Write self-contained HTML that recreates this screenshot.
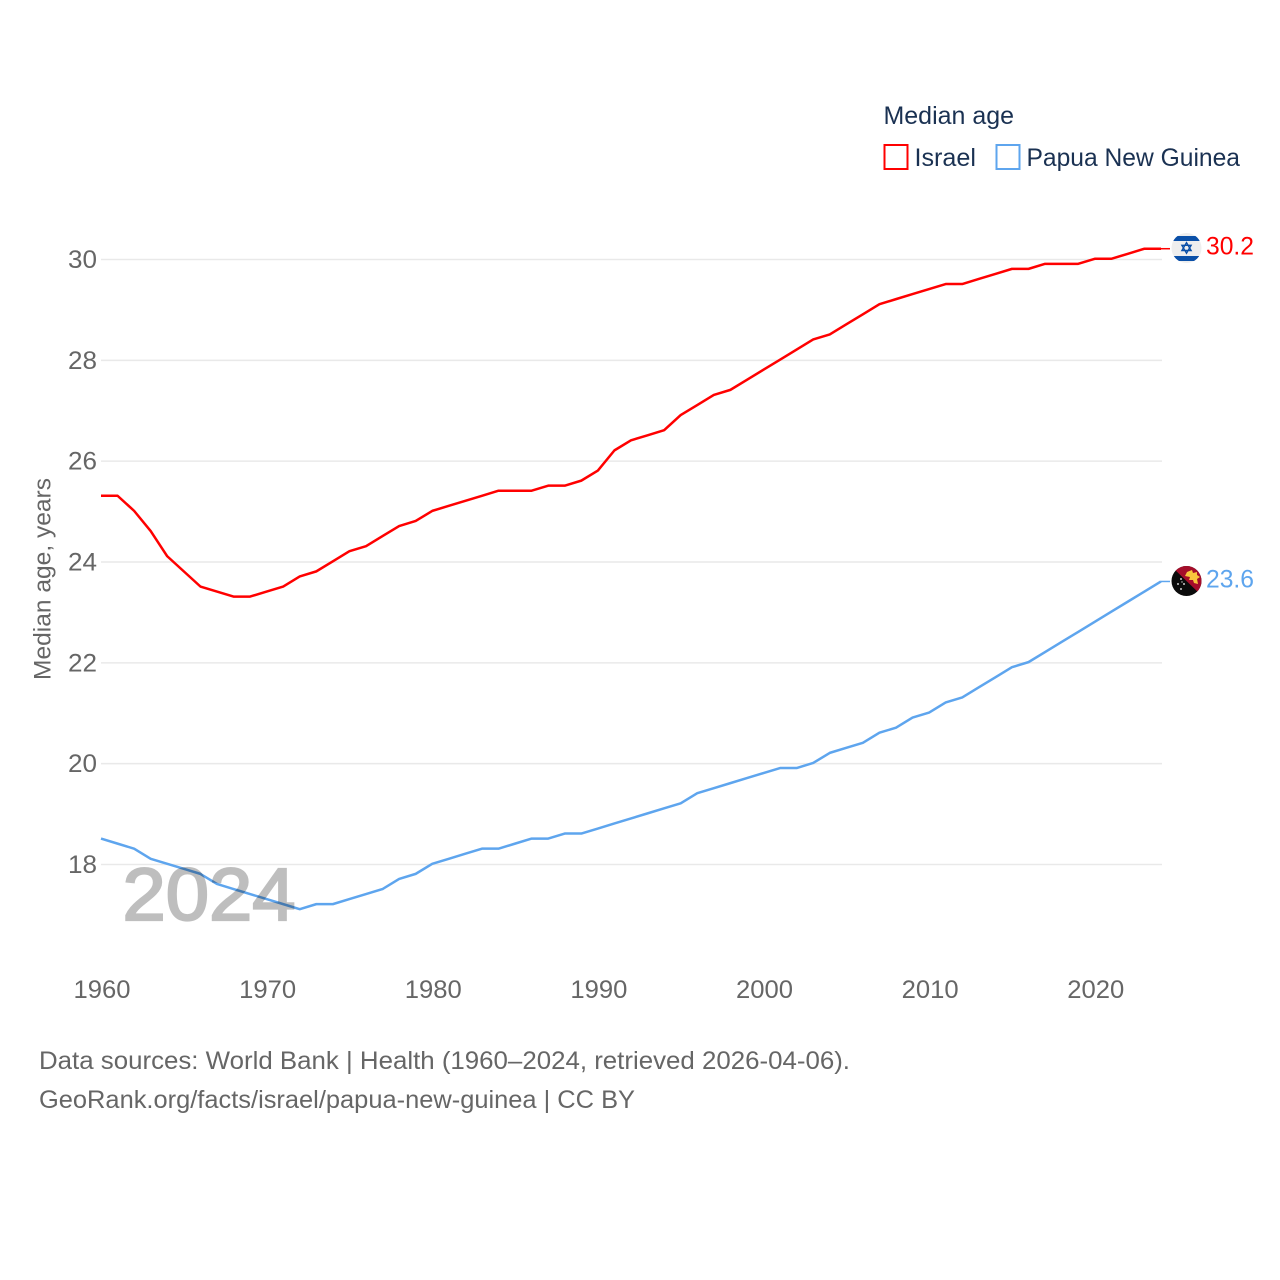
<!DOCTYPE html>
<html lang="en">
<head>
<meta charset="utf-8">
<title>Median age: Israel and Papua New Guinea</title>
<style>
html,body{margin:0;padding:0;background:#fff;width:1280px;height:1280px;overflow:hidden}
svg{display:block}
text{font-family:"Liberation Sans",sans-serif}
</style>
</head>
<body>
<svg id="chart" xmlns="http://www.w3.org/2000/svg" width="1280" height="1280" viewBox="0 0 1280 1280">
  <g id="grid"></g>
  <g id="yticks"></g>
  <g id="xticks"></g>
  <g id="series"></g>

  <text x="122.5" y="920" font-size="74" fill="#000" stroke="#000" stroke-width="2.2" opacity="0.25" textLength="173" lengthAdjust="spacingAndGlyphs">2024</text>

  <text transform="translate(50.5,680) rotate(-90)" font-size="24" fill="#666" textLength="202" lengthAdjust="spacingAndGlyphs">Median age, years</text>

  <g>
    <text x="883.5" y="124" font-size="25" fill="#1a3152" textLength="130.5" lengthAdjust="spacingAndGlyphs">Median age</text>
    <rect x="884.5" y="145" width="23" height="24" fill="none" stroke="#ff0000" stroke-width="2"/>
    <text x="914.5" y="166" font-size="25" fill="#1a3152" textLength="61.5" lengthAdjust="spacingAndGlyphs">Israel</text>
    <rect x="996.5" y="145" width="23" height="24" fill="none" stroke="#5ea5ee" stroke-width="2"/>
    <text x="1026.5" y="166" font-size="25" fill="#1a3152" textLength="213.5" lengthAdjust="spacingAndGlyphs">Papua New Guinea</text>
  </g>

  <defs>
    <clipPath id="clip-il"><circle cx="1186.5" cy="248" r="15"/></clipPath>
    <clipPath id="clip-pg"><circle cx="1186.5" cy="581" r="15"/></clipPath>
  </defs>

  <g clip-path="url(#clip-il)">
    <rect x="1171" y="233" width="31" height="30" fill="#eeeeee"/>
    <rect x="1171" y="236" width="31" height="5" fill="#0b50a8"/>
    <rect x="1171" y="256" width="31" height="5" fill="#0b50a8"/>
    <path d="M1186.5 242.6l4.6 7.9h-9.2zM1186.5 253.2l-4.6-7.9h9.2z" fill="none" stroke="#0b50a8" stroke-width="1.4"/>
  </g>

  <g clip-path="url(#clip-pg)">
    <rect x="1171" y="566" width="31" height="30" fill="#0b0b0b"/>
    <path d="M1171 566h31v30z" fill="#a50d2a"/>
    <path d="M1187 572l5-2 1 3 4-1 0 3 3 2-3 2 1 5-4-1-1-3-4 0 1-3-5-1z" fill="#f9c63c"/>
    <circle cx="1181" cy="579" r="1" fill="#ccc"/>
    <circle cx="1178" cy="584" r="1" fill="#ccc"/>
    <circle cx="1184" cy="584" r="1" fill="#ccc"/>
    <circle cx="1181" cy="589" r="1" fill="#ccc"/>
    <circle cx="1182" cy="582" r="0.7" fill="#ccc"/>
  </g>

  <text x="39" y="1069" font-size="25" fill="#666" textLength="811" lengthAdjust="spacingAndGlyphs">Data sources: World Bank | Health (1960–2024, retrieved 2026-04-06).</text>
  <text x="39" y="1108" font-size="25" fill="#666" textLength="596" lengthAdjust="spacingAndGlyphs">GeoRank.org/facts/israel/papua-new-guinea | CC BY</text>
</svg>
<script>
const years = [1960,1961,1962,1963,1964,1965,1966,1967,1968,1969,1970,1971,1972,1973,1974,1975,1976,1977,1978,1979,1980,1981,1982,1983,1984,1985,1986,1987,1988,1989,1990,1991,1992,1993,1994,1995,1996,1997,1998,1999,2000,2001,2002,2003,2004,2005,2006,2007,2008,2009,2010,2011,2012,2013,2014,2015,2016,2017,2018,2019,2020,2021,2022,2023,2024];
const israelValues = [25.3,25.3,25.0,24.6,24.1,23.8,23.5,23.4,23.3,23.3,23.4,23.5,23.7,23.8,24.0,24.2,24.3,24.5,24.7,24.8,25.0,25.1,25.2,25.3,25.4,25.4,25.4,25.5,25.5,25.6,25.8,26.2,26.4,26.5,26.6,26.9,27.1,27.3,27.4,27.6,27.8,28.0,28.2,28.4,28.5,28.7,28.9,29.1,29.2,29.3,29.4,29.5,29.5,29.6,29.7,29.8,29.8,29.9,29.9,29.9,30.0,30.0,30.1,30.2,30.2];
const papuaValues = [18.5,18.4,18.3,18.1,18.0,17.9,17.8,17.6,17.5,17.4,17.3,17.2,17.1,17.2,17.2,17.3,17.4,17.5,17.7,17.8,18.0,18.1,18.2,18.3,18.3,18.4,18.5,18.5,18.6,18.6,18.7,18.8,18.9,19.0,19.1,19.2,19.4,19.5,19.6,19.7,19.8,19.9,19.9,20.0,20.2,20.3,20.4,20.6,20.7,20.9,21.0,21.2,21.3,21.5,21.7,21.9,22.0,22.2,22.4,22.6,22.8,23.0,23.2,23.4,23.6];
const yTickLabels = [18,20,22,24,26,28,30];
const xTickLabels = [1960,1970,1980,1990,2000,2010,2020];

const NS = 'http://www.w3.org/2000/svg';
function xScale(year){ return 101 + (year - 1960) * (1060 / 64); }
function yScale(value){ return 864.5 - (value - 18) * (605 / 12); }
function make(tag, attrs, parent){
  const el = document.createElementNS(NS, tag);
  for (const k in attrs) el.setAttribute(k, attrs[k]);
  parent.appendChild(el);
  return el;
}
const gridGroup = document.getElementById('grid');
const yGroup = document.getElementById('yticks');
const xGroup = document.getElementById('xticks');
const seriesGroup = document.getElementById('series');

yTickLabels.forEach(function(v){
  const line = make('line', {x1:101, x2:1162, y1:yScale(v), y2:yScale(v), stroke:'#e9e9e9', 'stroke-width':1.5}, gridGroup);
  
  
  const t = make('text', {x:97, y:yScale(v)+8.5, 'text-anchor':'end', 'font-size':25, fill:'#666', textLength:29, lengthAdjust:'spacingAndGlyphs'}, yGroup);
  
  
  t.textContent = v;
});
xTickLabels.forEach(function(v){
  const t = make('text', {x:xScale(v)+1, y:998, 'text-anchor':'middle', 'font-size':25, fill:'#666', textLength:57, lengthAdjust:'spacingAndGlyphs'}, xGroup);
  
  
  t.textContent = v;
});
function drawSeries(values, color, name){
  const pts = values.map(function(v,i){ return xScale(years[i]).toFixed(2) + ',' + (yScale(v) - 0.7).toFixed(2); }).join(' ');
  const line = make('polyline', {points:pts, fill:'none', stroke:color, 'stroke-width':2.5, 'stroke-linejoin':'round'}, seriesGroup);
  
  
  const last = values[values.length - 1];
  const lx = xScale(years[years.length - 1]);
  const ly = yScale(last) - 0.7;
  const conn = make('line', {x1:lx, x2:lx + 9, y1:ly, y2:ly, stroke:color, 'stroke-width':1.5}, seriesGroup);
  
  
  const label = make('text', {x:1206, y:ly + 6, 'font-size':25, fill:color, textLength:48, lengthAdjust:'spacingAndGlyphs'}, seriesGroup);
  
  
  label.textContent = last.toFixed(1);
}
drawSeries(israelValues, '#ff0000', 'israel');
drawSeries(papuaValues, '#5ea5ee', 'papua-new-guinea');
</script>
</body>
</html>
